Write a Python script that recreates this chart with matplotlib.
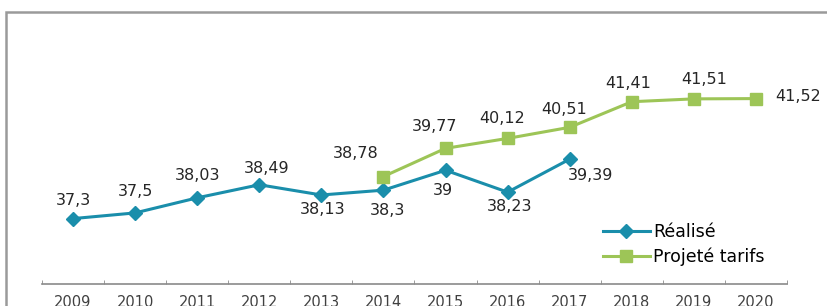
import matplotlib.pyplot as plt
import matplotlib.patches as patches
import numpy as np

# --- Data ---
years = ["2009", "2010", "2011", "2012", "2013", "2014", "2015", "2016",
         "2017", "2018", "2019", "2020"]
realise = [37.3, 37.5, 38.03, 38.49, 38.13, 38.3, 39.0, 38.23, 39.39]
projete = [38.78, 39.77, 40.12, 40.51, 41.41, 41.51, 41.52]
realise_start = 0   # 2009
projete_start = 5   # 2014

blue = "#1a8eab"
green = "#9dc557"

plt.rcParams['font.family'] = ['DejaVu Sans']
fig = plt.figure(figsize=(8.28, 3.06), dpi=100)

# outer frame of the original picture (runs off the right and bottom edges)
fig.patches.append(patches.Rectangle((6 / 828, -0.1), 1.0, 1.1 - 12 / 306,
                                     transform=fig.transFigure, fill=False,
                                     edgecolor="#9a9a9a", linewidth=1.8))

ax = fig.add_axes([42 / 828, 22 / 306, 745 / 828, 227.5 / 306])

x_r = np.arange(realise_start, realise_start + len(realise))
x_p = np.arange(projete_start, projete_start + len(projete))

ax.plot(x_r, realise, color=blue, linewidth=2.2, marker="D", markersize=7.5,
        label="Réalisé")
ax.plot(x_p, projete, color=green, linewidth=2.2, marker="s", markersize=9,
        label="Projeté tarifs")

def fmt(v):
    s = f"{v:.2f}".rstrip("0").rstrip(".")
    return s.replace(".", ",")

# data label offsets in pixels (dx right, dy up)
r_off = [(0, 18), (0, 21), (0, 22), (7, 16), (1, -15), (4, -20),
         (-3, -20), (2, -14), (21, -16)]
p_off = [(-28, 23), (-11, 22), (-5, 20), (-6, 18), (-4, 18), (10, 19), (42, 2)]

px = 72 / 100
for xi, v, (dx, dy) in zip(x_r, realise, r_off):
    ax.annotate(fmt(v), (xi, v), xytext=(dx * px, dy * px), textcoords="offset points",
                ha="center", va="center", fontsize=11.5, color="#262626")
for xi, v, (dx, dy) in zip(x_p, projete, p_off):
    ax.annotate(fmt(v), (xi, v), xytext=(dx * px, dy * px), textcoords="offset points",
                ha="center", va="center", fontsize=11.5, color="#262626")

ax.set_xlim(-0.5, len(years) - 0.5)
ax.set_ylim(35, 43)
ax.set_xticks(np.arange(len(years)))
ax.set_xticklabels(years, fontsize=10.5, color="#404040")
ax.set_xticks(np.arange(-0.5, len(years), 1), minor=True)
ax.tick_params(axis="x", which="major", length=0, pad=8)
ax.tick_params(axis="x", which="minor", length=3, direction="in", color="#8a8a8a")
ax.set_yticks([])

for side in ["top", "right", "left"]:
    ax.spines[side].set_visible(False)
ax.spines["bottom"].set_color("#8a8a8a")
ax.spines["bottom"].set_linewidth(1.2)

ax.legend(loc="upper left", bbox_to_anchor=(603 / 828, (306 - 223) / 306),
          bbox_transform=fig.transFigure, frameon=False, fontsize=12.5,
          handlelength=2.7, handletextpad=0.2, labelspacing=0.4,
          borderaxespad=0, borderpad=0, prop={"size": 12.5})

plt.savefig("out.png", dpi=100)
